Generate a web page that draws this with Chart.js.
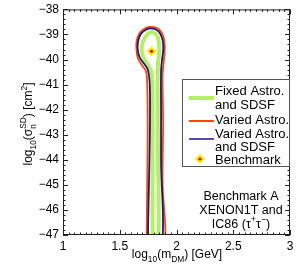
<!DOCTYPE html>
<html>
<head>
<meta charset="utf-8">
<script src="https://cdn.jsdelivr.net/npm/chart.js@4.4.0/dist/chart.umd.min.js"></script>
<style>
html, body { margin: 0; padding: 0; background: #fff; }
</style>
</head>
<body>
<canvas id="myChart" width="299" height="268"></canvas>
<script>
// tick labels
let xTicks = [1, 1.5, 2, 2.5, 3];
let yTicks = [-38, -39, -40, -41, -42, -43, -44, -45, -46, -47];

// Fixed Astro. and SDSF contour
let fixedX = [1.789, 1.789, 1.789, 1.781, 1.746, 1.711, 1.693, 1.702, 1.728, 1.763, 1.798, 1.833, 1.846, 1.846, 1.837, 1.833, 1.837, 1.837];
let fixedY = [-47.6, -43.66, -41.67, -40.55, -40.19, -39.95, -39.63, -39.31, -39.08, -38.92, -38.92, -39.08, -39.39, -39.79, -40.15, -40.87, -43.66, -47.6];

// Varied Astro. contour
let variedX = [1.735, 1.745, 1.746, 1.741, 1.731, 1.696, 1.660, 1.647, 1.650, 1.678, 1.720, 1.763, 1.815, 1.850, 1.882, 1.895, 1.895, 1.886, 1.877, 1.882, 1.877, 1.886];
let variedY = [-47.6, -43.66, -42.06, -40.87, -40.47, -40.23, -39.95, -39.59, -39.23, -38.92, -38.76, -38.70, -38.72, -38.82, -39.04, -39.35, -39.75, -40.15, -40.67, -42.46, -44.85, -47.6];

// Varied Astro. and SDSF contour
let variedSdsfX = [1.746, 1.754, 1.763, 1.767, 1.763, 1.746, 1.711, 1.675, 1.658, 1.662, 1.684, 1.719, 1.763, 1.807, 1.842, 1.868, 1.882, 1.882, 1.873, 1.864, 1.864, 1.864, 1.868];
let variedSdsfY = [-47.6, -45.65, -43.66, -42.06, -40.87, -40.39, -40.15, -39.91, -39.59, -39.27, -38.99, -38.84, -38.76, -38.78, -38.88, -39.08, -39.35, -39.67, -39.99, -40.47, -42.06, -44.06, -47.6];

// benchmark point
let benchX = [1.78];
let benchY = [-39.67];

const FONT = "'Liberation Sans', Arial, Helvetica, sans-serif";

function pts(xs, ys, close) {
    let out = xs.map((x, i) => ({ x: x, y: ys[i] }));
    if (close) out.push({ x: xs[0], y: ys[0] });
    return out;
}

function minus(v) {
    return v < 0 ? "\u2212" + Math.abs(v) : String(v);
}

// text with sub/superscripts, parts: [text, kind] kind 0 normal, -1 sub, 1 sup, 2 = [sub, sup] stacked
function richWidth(ctx, parts, size) {
    let w = 0;
    parts.forEach(p => {
        if (p[1] === 0) { ctx.font = size + "px " + FONT; w += ctx.measureText(p[0]).width; }
        else if (p[1] === 2) {
            ctx.font = (size * 0.7) + "px " + FONT;
            w += Math.max(ctx.measureText(p[0][0]).width, ctx.measureText(p[0][1]).width);
        } else { ctx.font = (size * 0.7) + "px " + FONT; w += ctx.measureText(p[0]).width; }
    });
    return w;
}

function drawRich(ctx, parts, x, y, size) {
    let cx = x;
    parts.forEach(p => {
        if (p[1] === 0) {
            ctx.font = size + "px " + FONT;
            ctx.fillText(p[0], cx, y);
            cx += ctx.measureText(p[0]).width;
        } else if (p[1] === 2) {
            ctx.font = (size * 0.7) + "px " + FONT;
            ctx.fillText(p[0][0], cx, y + size * 0.32);
            ctx.fillText(p[0][1], cx, y - size * 0.48);
            cx += Math.max(ctx.measureText(p[0][0]).width, ctx.measureText(p[0][1]).width);
        } else {
            ctx.font = (size * 0.7) + "px " + FONT;
            ctx.fillText(p[0], cx, p[1] < 0 ? y + size * 0.32 : y - size * 0.45);
            cx += ctx.measureText(p[0]).width;
        }
    });
}

const decorations = {
    id: 'decorations',
    afterDraw(chart) {
        let ctx = chart.ctx;
        let a = chart.chartArea;
        let xs = chart.scales.x, ys = chart.scales.y;
        ctx.save();
        ctx.strokeStyle = '#222';
        ctx.lineWidth = 1;
        ctx.strokeRect(a.left + 0.5, a.top + 0.5, a.right - a.left - 1, a.bottom - a.top - 1);

        // inward ticks
        ctx.beginPath();
        for (let i = 0; i <= 40; i++) {
            let v = 1 + i * 0.05;
            let px = Math.round(xs.getPixelForValue(v)) + 0.5;
            let len = (i % 10 === 0) ? 5 : 2.5;
            ctx.moveTo(px, a.bottom); ctx.lineTo(px, a.bottom - len);
            ctx.moveTo(px, a.top); ctx.lineTo(px, a.top + len);
        }
        for (let i = 0; i <= 45; i++) {
            let v = -47 + i * 0.2;
            let py = Math.round(ys.getPixelForValue(v)) + 0.5;
            let len = (i % 5 === 0) ? 5 : 2.5;
            ctx.moveTo(a.left, py); ctx.lineTo(a.left + len, py);
            ctx.moveTo(a.right, py); ctx.lineTo(a.right - len, py);
        }
        ctx.stroke();

        ctx.fillStyle = '#000';
        ctx.textBaseline = 'alphabetic';
        ctx.textAlign = 'left';

        // x title
        let xt = [["log", 0], ["10", -1], ["(m", 0], ["DM", -1], [") [GeV]", 0]];
        let w = richWidth(ctx, xt, 12);
        drawRich(ctx, xt, 177 - w / 2, 258, 12);

        // y title
        let yt = [["log", 0], ["10", -1], ["(\u03c3", 0], [["n", "SD"], 2], [") [cm", 0], ["2", 1], ["]", 0]];
        ctx.save();
        ctx.translate(32, 124);
        ctx.rotate(-Math.PI / 2);
        w = richWidth(ctx, yt, 12);
        drawRich(ctx, yt, -w / 2, 0, 12);
        ctx.restore();

        // legend box
        ctx.fillStyle = '#fff';
        ctx.fillRect(183, 80, 107, 87);
        ctx.strokeStyle = '#555';
        ctx.lineWidth = 1;
        ctx.strokeRect(182.5, 79.5, 107, 87);
        ctx.lineCap = 'butt';
        ctx.strokeStyle = 'rgb(180,240,100)'; ctx.lineWidth = 4;
        ctx.beginPath(); ctx.moveTo(189, 98); ctx.lineTo(214, 98); ctx.stroke();
        ctx.strokeStyle = 'rgb(255,70,10)'; ctx.lineWidth = 2;
        ctx.beginPath(); ctx.moveTo(189, 121); ctx.lineTo(214, 121); ctx.stroke();
        ctx.strokeStyle = 'rgb(30,20,130)'; ctx.lineWidth = 1.5;
        ctx.beginPath(); ctx.moveTo(189, 139); ctx.lineTo(214, 139); ctx.stroke();
        // diamond
        ctx.fillStyle = 'rgb(255,235,0)';
        ctx.beginPath(); ctx.moveTo(200, 154); ctx.lineTo(205, 159); ctx.lineTo(200, 164); ctx.lineTo(195, 159); ctx.closePath(); ctx.fill();
        ctx.fillStyle = 'rgb(230,0,0)';
        ctx.beginPath(); ctx.arc(200, 159, 1.6, 0, Math.PI * 2); ctx.fill();

        ctx.fillStyle = '#000';
        ctx.font = "13px " + FONT;
        ctx.fillText("Fixed Astro.", 215, 95);
        ctx.fillText("and SDSF", 215, 109);
        ctx.fillText("Varied Astro.", 215, 124);
        ctx.fillText("Varied Astro.", 215, 138);
        ctx.fillText("and SDSF", 215, 151);
        ctx.fillText("Benchmark", 215, 164);

        // annotation
        let lines = [
            [["Benchmark A", 0]],
            [["XENON1T and", 0]],
            [["IC86 (\u03c4", 0], ["+", 1], ["\u03c4", 0], ["\u2212", 1], [")", 0]]
        ];
        let ly = [200, 214, 228];
        lines.forEach((ln, i) => {
            let lw = richWidth(ctx, ln, 12.5);
            drawRich(ctx, ln, 241 - lw / 2, ly[i], 12.5);
        });
        ctx.restore();
    }
};

let ctx = document.getElementById('myChart').getContext('2d');
let myChart = new Chart(ctx, {
    type: 'scatter',
    data: {
        datasets: [
            {
                label: 'Benchmark dot',
                data: pts(benchX, benchY, false),
                pointStyle: 'circle',
                pointRadius: 1.6,
                pointBackgroundColor: 'rgb(230,0,0)',
                pointBorderWidth: 0
            },
            {
                label: 'Benchmark',
                data: pts(benchX, benchY, false),
                pointStyle: 'rectRot',
                pointRadius: 5,
                pointBackgroundColor: 'rgb(255,235,0)',
                pointBorderWidth: 0
            },
            {
                label: 'Varied Astro. and SDSF',
                data: pts(variedSdsfX, variedSdsfY, true),
                showLine: true,
                borderColor: 'rgb(30,20,130)',
                borderWidth: 1.8,
                pointRadius: 0,
                tension: 0.35
            },
            {
                label: 'Varied Astro.',
                data: pts(variedX, variedY, true),
                showLine: true,
                borderColor: 'rgb(255,70,10)',
                borderWidth: 1.8,
                pointRadius: 0,
                tension: 0.35
            },
            {
                label: 'Fixed Astro. and SDSF',
                data: pts(fixedX, fixedY, true),
                showLine: true,
                borderColor: 'rgb(180,240,100)',
                borderWidth: 4,
                pointRadius: 0,
                tension: 0.35
            }
        ]
    },
    options: {
        responsive: false,
        animation: false,
        devicePixelRatio: 1,
        layout: { padding: { top: 8, right: 9, left: 0, bottom: 0 } },
        plugins: {
            legend: { display: false },
            tooltip: { enabled: false }
        },
        scales: {
            x: {
                type: 'linear',
                min: 1,
                max: 3,
                afterBuildTicks: s => { s.ticks = xTicks.map(v => ({ value: v })); },
                afterFit: s => { s.height = 33; },
                ticks: {
                    callback: v => String(v),
                    color: '#000',
                    font: { family: FONT, size: 12 },
                    padding: 4,
                    maxRotation: 0
                },
                grid: { display: false, drawTicks: false },
                border: { display: false }
            },
            y: {
                type: 'linear',
                min: -47,
                max: -38,
                afterBuildTicks: s => { s.ticks = yTicks.map(v => ({ value: v })); },
                afterFit: s => { s.width = 63; },
                ticks: {
                    callback: v => minus(v),
                    color: '#000',
                    font: { family: FONT, size: 12, lineHeight: 0.9 },
                    padding: 4
                },
                grid: { display: false, drawTicks: false },
                border: { display: false }
            }
        }
    },
    plugins: [decorations]
});
</script>
</body>
</html>
